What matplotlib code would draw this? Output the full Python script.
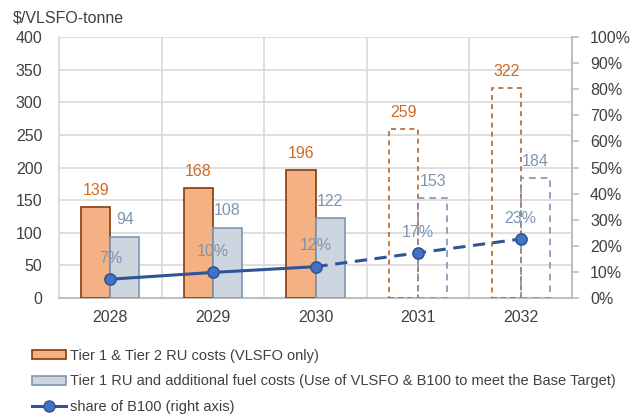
import matplotlib
matplotlib.use("Agg")
import matplotlib.pyplot as plt
from matplotlib.lines import Line2D
from matplotlib.patches import Patch
import numpy as np

plt.rcParams['font.family'] = ['Liberation Sans', 'DejaVu Sans']

years = ["2028", "2029", "2030", "2031", "2032"]
tier12_costs = [139, 168, 196, 259, 322]
tier1_fuel_costs = [94, 108, 122, 153, 184]
b100_share = [7.2, 9.8, 12.0, 17.3, 22.6]
n_actual = 3  # first three years solid, rest projected (dashed)

orange_fill = "#F4B183"
orange_edge = "#843C0C"
orange_dash = "#B5652A"
orange_txt = "#D06A22"
blue_fill = "#CDD5DF"
blue_edge = "#7F93B3"
blue_txt = "#7F93B3"
line_col = "#2F5597"
marker_col = "#4472C4"
txt_col = "#404040"
grid_col = "#D9D9D9"
axis_col = "#BFBFBF"

fs = 11.5
lfs = 10.5
fig = plt.figure(figsize=(6.33, 4.17), dpi=100)
ax = fig.add_axes([59/633, 1-298/417, (572-59)/633, (298-37)/417])
ax2 = ax.twinx()

x = np.arange(len(years))
w = 0.283

for i in range(len(years)):
    if i < n_actual:
        ax.bar(x[i]-w/2, tier12_costs[i], w, color=orange_fill, edgecolor=orange_edge, linewidth=1.2, zorder=3)
        ax.bar(x[i]+w/2, tier1_fuel_costs[i], w, color=blue_fill, edgecolor=blue_edge, linewidth=1.2, zorder=3)
    else:
        ax.bar(x[i]-w/2, tier12_costs[i], w, color="none", edgecolor=orange_dash, linewidth=1.2, linestyle=(0, (3, 2.5)), zorder=3)
        ax.bar(x[i]+w/2, tier1_fuel_costs[i], w, color="none", edgecolor=blue_edge, linewidth=1.2, linestyle=(0, (4, 3)), zorder=3)
    ax.annotate(f"{tier12_costs[i]}", (x[i]-w/2, tier12_costs[i]), xytext=(0, 12), textcoords="offset points",
                ha="center", va="center", color=orange_txt, fontsize=fs, zorder=5)
    ax.annotate(f"{tier1_fuel_costs[i]}", (x[i]+w/2, tier1_fuel_costs[i]), xytext=(0, 12), textcoords="offset points",
                ha="center", va="center", color=blue_txt, fontsize=fs, zorder=5)

ax.set_xlim(-0.5, len(years)-0.5)
ax.set_ylim(0, 400)
ax.set_yticks(range(0, 401, 50))
ax.set_xticks(x)
ax.set_xticklabels(years)
ax.set_xticks(np.arange(-0.5, len(years), 1), minor=True)
ax.grid(axis="y", color=grid_col, linewidth=1.2, zorder=0)
ax.grid(axis="x", which="minor", color=grid_col, linewidth=1.2, zorder=0)
ax.tick_params(axis="x", which="both", length=0, pad=9, labelsize=fs, labelcolor=txt_col)
ax.tick_params(axis="y", length=0, pad=12, labelsize=fs, labelcolor=txt_col)
ax.set_axisbelow(True)
for s in ["top", "right"]:
    ax.spines[s].set_visible(False)
ax.spines["left"].set_color(grid_col)
ax.spines["left"].set_linewidth(1.2)
ax.spines["bottom"].set_color(axis_col)
ax.spines["bottom"].set_linewidth(1.5)
ax.spines["bottom"].set_zorder(2.5)

# line on right axis
xs = x
ax2.plot(xs[:n_actual], b100_share[:n_actual], color=line_col, linewidth=2.2, zorder=6)
ax2.plot(xs[n_actual-1:], b100_share[n_actual-1:], color=line_col, linewidth=2.2, linestyle=(0, (4, 2.5)), zorder=6)
ax2.plot(xs, b100_share, linestyle="none", marker="o", markersize=8, markerfacecolor=marker_col,
         markeredgecolor=line_col, markeredgewidth=1.2, zorder=7)
for i, v in enumerate(b100_share):
    ax2.annotate(f"{v:.0f}%", (xs[i], v), xytext=(0, 15), textcoords="offset points",
                 ha="center", va="center", color=blue_txt, fontsize=fs, zorder=8)
ax2.set_ylim(0, 100)
ax2.set_yticks(range(0, 101, 10))
ax2.set_yticklabels([f"{t}%" for t in range(0, 101, 10)])
ax2.tick_params(axis="y", direction="out", length=5, width=1.2, color=axis_col, pad=8, labelsize=fs, labelcolor=txt_col)
for s in ["top", "left", "bottom"]:
    ax2.spines[s].set_visible(False)
ax2.spines["right"].set_color(axis_col)
ax2.spines["right"].set_linewidth(1.5)

fig.text(13/633, 1-18/417, "$/VLSFO-tonne", ha="left", va="center", fontsize=fs, color=txt_col)

handles = [
    Patch(facecolor=orange_fill, edgecolor=orange_edge, linewidth=1.2),
    Patch(facecolor=blue_fill, edgecolor=blue_edge, linewidth=1.2),
    Line2D([0], [0], color=line_col, linewidth=2.2, marker="o", markersize=8,
           markerfacecolor=marker_col, markeredgecolor=line_col),
]
labels = [
    "Tier 1 & Tier 2 RU costs (VLSFO only)",
    "Tier 1 RU and additional fuel costs (Use of VLSFO & B100 to meet the Base Target)",
    "share of B100 (right axis)",
]
leg = fig.legend(handles, labels, loc="upper left", bbox_to_anchor=(32/633, 1-349/417),
                 frameon=False, fontsize=lfs, handlelength=2.35, handleheight=0.55, handletextpad=0.27,
                 labelspacing=0.78, borderaxespad=0, borderpad=0)
for t in leg.get_texts():
    t.set_color(txt_col)

fig.savefig("out.png", dpi=100)
